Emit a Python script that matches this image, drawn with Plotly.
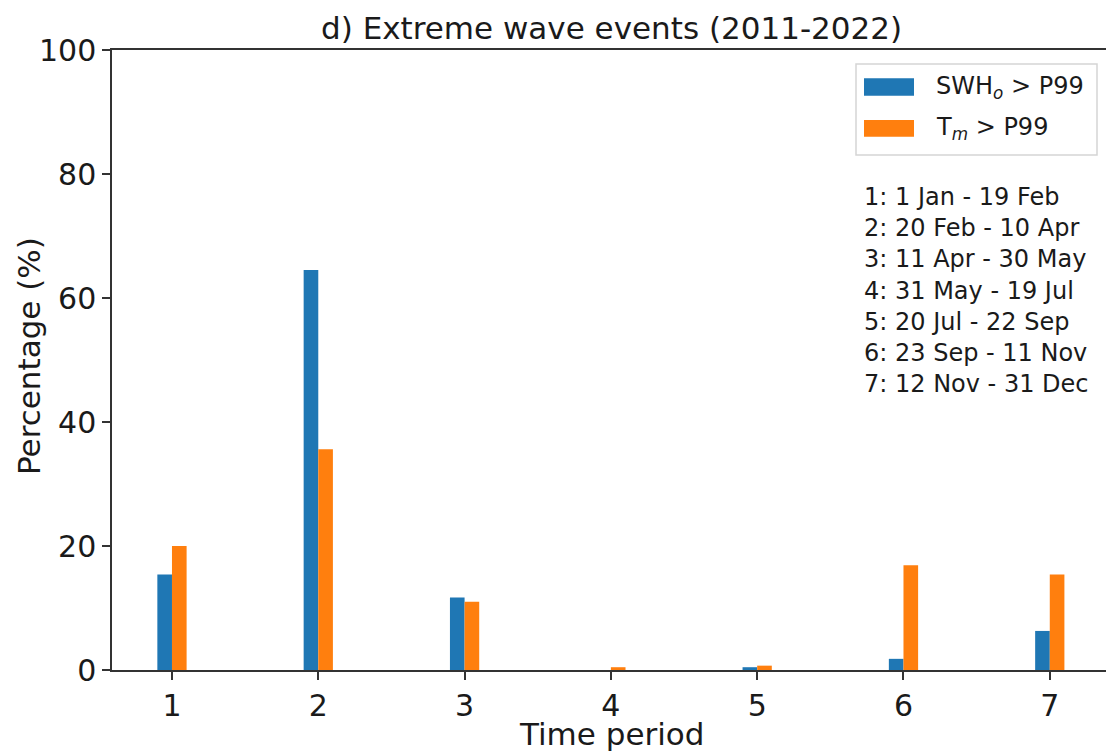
import plotly.graph_objects as go

periods = [1, 2, 3, 4, 5, 6, 7]
swh_pct = [15.4, 64.5, 11.7, 0.0, 0.45, 1.8, 6.3]
tm_pct = [20.0, 35.6, 11.0, 0.45, 0.7, 16.9, 15.4]
series_names = ["SWH<sub><i>o</i></sub> > P99", "T<sub><i>m</i></sub> > P99"]
period_labels = [
    "1: 1 Jan - 19 Feb",
    "2: 20 Feb - 10 Apr",
    "3: 11 Apr - 30 May",
    "4: 31 May - 19 Jul",
    "5: 20 Jul - 22 Sep",
    "6: 23 Sep - 11 Nov",
    "7: 12 Nov - 31 Dec",
]
colors = ["#1f77b4", "#ff7f0e"]

W, H = 1106, 753
L, R, T, B = 112, 0, 50, 83
pw, ph = W - L - R, H - T - B
FONT = "DejaVu Sans"


def px(x):
    return (x - L) / pw


def py(y):
    return (H - B - y) / ph


fig = go.Figure()
fig.add_trace(go.Bar(x=periods, y=swh_pct, name=series_names[0], marker=dict(color=colors[0], line=dict(width=0))))
fig.add_trace(go.Bar(x=periods, y=tm_pct, name=series_names[1], marker=dict(color=colors[1], line=dict(width=0))))

x0 = 0.59
x1 = x0 + pw / 146.3

fig.update_layout(
    width=W, height=H,
    margin=dict(l=L, r=R, t=T, b=B, autoexpand=False),
    paper_bgcolor="white", plot_bgcolor="white",
    barmode="group", bargap=0.8, bargroupgap=0,
    showlegend=False,
    font=dict(family=FONT, color="black", size=30),
    xaxis=dict(
        range=[x0, x1], tickmode="array", tickvals=periods, ticktext=[str(p) for p in periods],
        showgrid=False, zeroline=False, showline=True, linecolor="#333", linewidth=1.5,
        mirror=True, ticks="outside", ticklen=8, tickwidth=1.5, tickcolor="#333",
        tickfont=dict(size=30, family=FONT, color="#1a1a1a"), automargin=False,
    ),
    yaxis=dict(
        range=[0, 100], tickvals=[0, 20, 40, 60, 80, 100],
        showgrid=False, zeroline=False, showline=True, linecolor="#333", linewidth=1.5,
        ticks="outside", ticklen=8, tickwidth=1.5, tickcolor="#333",
        tickfont=dict(size=30, family=FONT, color="#1a1a1a"), automargin=False,
    ),
)

ann = []
ann.append(dict(text="d) Extreme wave events (2011-2022)", x=px(611), y=py(28), xref="paper", yref="paper",
                xanchor="center", yanchor="middle", showarrow=False, font=dict(size=31, family=FONT, color="#1a1a1a")))
ann.append(dict(text="Time period", x=px(611), y=py(734), xref="paper", yref="paper",
                xanchor="center", yanchor="middle", showarrow=False, font=dict(size=31, family=FONT, color="#1a1a1a")))
ann.append(dict(text="Percentage (%)", x=px(29), y=py(356), xref="paper", yref="paper", textangle=-90,
                xanchor="center", yanchor="middle", showarrow=False, font=dict(size=31, family=FONT, color="#1a1a1a")))
ann.append(dict(text="<br>".join(period_labels), x=px(862), y=py(290.5), xref="paper", yref="paper",
                xanchor="left", yanchor="middle", align="left", showarrow=False,
                font=dict(size=24, family=FONT, color="#1a1a1a")))

shapes = []
shapes.append(dict(type="rect", xref="paper", yref="paper", x0=px(856), x1=px(1097), y0=py(155), y1=py(64),
                   line=dict(color="#d5d5d5", width=1.5), fillcolor="rgba(255,255,255,0.8)", layer="above"))
sw_y = [(78.3, 95.7), (120, 136.7)]
for i, name in enumerate(series_names):
    ya, yb = sw_y[i]
    shapes.append(dict(type="rect", xref="paper", yref="paper", x0=px(864), x1=px(914), y0=py(yb), y1=py(ya),
                       line=dict(width=0), fillcolor=colors[i], layer="above"))
    ann.append(dict(text=name, x=px(934), y=py((ya + yb) / 2), xref="paper", yref="paper",
                    xanchor="left", yanchor="middle", showarrow=False,
                    font=dict(size=24, family=FONT, color="#1a1a1a")))

fig.update_layout(annotations=ann, shapes=shapes)
fig.write_html("out.html")
